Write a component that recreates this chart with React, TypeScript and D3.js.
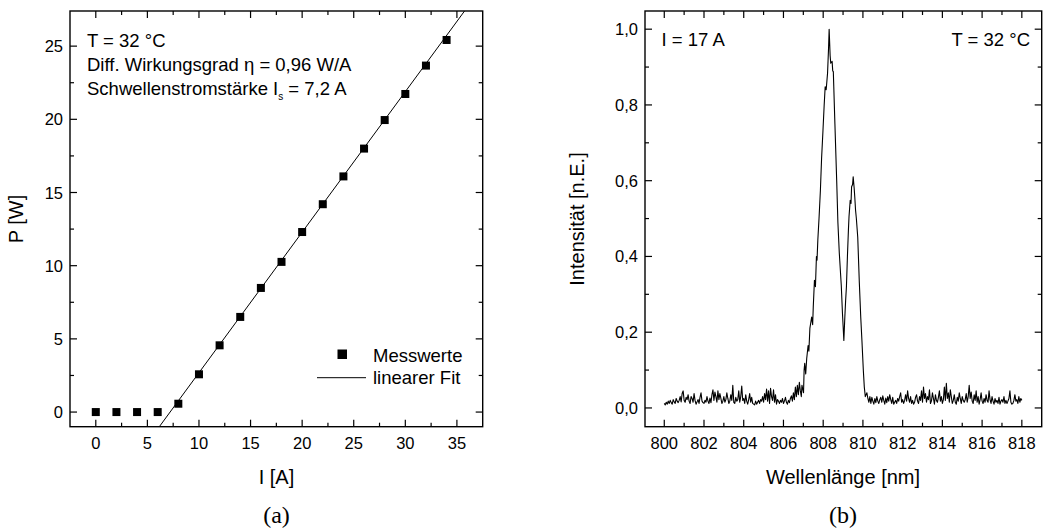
import React from "react";
import * as d3 from "d3";

// ---- Data: panel (a) ----
const currentA = [0, 2, 4, 6, 8, 10, 12, 14, 16, 18, 20, 22, 24, 26, 28, 30, 32, 34];
const powerW = [0, 0, 0, 0, 0.57, 2.58, 4.56, 6.5, 8.48, 10.26, 12.3, 14.2, 16.1, 18.0, 19.95, 21.73, 23.67, 25.42];
const fitSlope = 0.96;
const fitThreshold = 7.2;
const xTicksA = [0, 5, 10, 15, 20, 25, 30, 35];
const xMinorA = [2.5, 7.5, 12.5, 17.5, 22.5, 27.5, 32.5];
const yTicksA = [0, 5, 10, 15, 20, 25];
const yMinorA = [2.5, 7.5, 12.5, 17.5, 22.5];

// ---- Data: panel (b) ----
const noiseLeftStart = 800.0;
const noiseLeft = [
  12, 8, 15, 10, 18, 12, 20, 14, 10, 22, 16, 12, 25, 18, 14, 20, 30, 16, 38, 45,
  20, 15, 28, 22, 35, 18, 12, 30, 25, 15, 38, 20, 10, 16, 22, 12, 28, 40, 18, 14,
  12, 20, 15, 30, 18, 12, 26, 14, 35, 48, 20, 42, 30, 15, 45, 22, 38, 25, 12, 18,
  30, 15, 22, 40, 25, 12, 18, 35, 20, 60, 15, 12, 28, 18, 22, 45, 15, 30, 58, 20,
  25, 12, 35, 18, 10, 22, 38, 15, 28, 12, 10, 8, 18, 10, 15, 20, 12, 22, 18, 30,
  15, 38, 22, 50, 18, 45, 12, 52, 30, 20, 48, 15, 35, 10, 22, 18, 12, 20, 15, 25,
  12, 18, 28, 15, 10, 20, 14, 25, 32, 18, 40, 22, 55, 30, 60, 35, 68, 45,
];
const peakNm = [
  806.9, 806.93, 807.01, 807.04, 807.07, 807.12, 807.17, 807.24, 807.28, 807.33,
  807.42, 807.47, 807.5, 807.56, 807.61, 807.66, 807.69, 807.73, 807.79, 807.86,
  807.92, 807.99, 808.05, 808.1, 808.15, 808.22, 808.27, 808.3, 808.35, 808.38,
  808.45, 808.48, 808.51, 808.59, 808.68, 808.74, 808.81, 808.91, 808.97, 809.04,
  809.09, 809.13, 809.17, 809.22, 809.27, 809.3, 809.36, 809.4, 809.43, 809.48,
  809.51, 809.56, 809.59, 809.63, 809.67, 809.74, 809.82, 809.89, 809.95, 810.02,
  810.07, 810.12,
];
const peakVal = [
  0.03, 0.06, 0.04, 0.1, 0.118, 0.09, 0.13, 0.165, 0.15, 0.21,
  0.24, 0.22, 0.266, 0.337, 0.32, 0.4, 0.39, 0.443, 0.5, 0.575,
  0.66, 0.733, 0.8, 0.848, 0.84, 0.884, 0.95, 1.0, 0.93, 0.91,
  0.915, 0.89, 0.888, 0.75, 0.6, 0.49, 0.41, 0.324, 0.25, 0.178,
  0.24, 0.284, 0.32, 0.4, 0.47, 0.505, 0.548, 0.54, 0.584, 0.59,
  0.61, 0.58, 0.557, 0.522, 0.5, 0.45, 0.33, 0.24, 0.178, 0.1,
  0.055, 0.03,
];
const noiseRightStart = 810.2;
const noiseRight = [
  40, 25, 15, 30, 12, 28, 18, 10, 25, 14, 30, 18, 12, 22, 28, 15, 32, 20, 10, 26,
  14, 30, 18, 35, 22, 12, 28, 10, 15, 20, 12, 25, 18, 30, 40, 15, 22, 12, 20, 35,
  18, 45, 25, 15, 30, 12, 20, 10, 15, 28, 35, 18, 12, 30, 20, 45, 15, 55, 25, 38,
  15, 30, 22, 48, 12, 18, 40, 25, 10, 35, 20, 15, 28, 45, 18, 30, 12, 22, 55, 20,
  65, 25, 40, 15, 48, 30, 12, 20, 35, 15, 10, 28, 18, 40, 25, 12, 30, 20, 15, 22,
  38, 15, 30, 60, 25, 42, 18, 12, 35, 20, 45, 15, 30, 10, 22, 40, 18, 12, 25, 15,
  35, 20, 15, 45, 22, 12, 30, 18, 10, 25, 15, 20, 12, 28, 10, 18, 22, 15, 30, 12,
  20, 12, 18, 25, 45, 15, 10, 12, 20, 35, 18, 22, 12, 30, 15, 25, 20,
];
const noiseStep = 0.05;
const xTicksB = [800, 802, 804, 806, 808, 810, 812, 814, 816, 818];
const xMinorB = [801, 803, 805, 807, 809, 811, 813, 815, 817];
const yTicksB = [0, 0.2, 0.4, 0.6, 0.8, 1.0];
const yMinorB = [0.1, 0.3, 0.5, 0.7, 0.9];

const FONT = "'Liberation Sans', Arial, sans-serif";
const SERIF = "'Liberation Serif', 'DejaVu Serif', serif";
const TICK_FS = 16.5;
const TITLE_FS = 20;
const ANN_FS = 18.5;
const MAJ = 7;
const MIN = 4;

type FrameProps = {
  x: d3.ScaleLinear<number, number>;
  y: d3.ScaleLinear<number, number>;
  xt: number[];
  xm: number[];
  yt: number[];
  ym: number[];
  xf: (v: number) => string;
  yf: (v: number) => string;
};

function Frame({ x, y, xt, xm, yt, ym, xf, yf }: FrameProps) {
  const [x0, x1] = x.range();
  const [y0, y1] = y.range(); // y0 bottom, y1 top
  return (
    <g>
      <rect x={x0} y={y1} width={x1 - x0} height={y0 - y1} fill="none" stroke="#000" strokeWidth={1.4} />
      {xt.map((v) => (
        <g key={"xt" + v}>
          <line x1={x(v)} x2={x(v)} y1={y0} y2={y0 - MAJ} stroke="#000" strokeWidth={1.2} />
          <line x1={x(v)} x2={x(v)} y1={y1} y2={y1 + MAJ} stroke="#000" strokeWidth={1.2} />
          <text x={x(v)} y={y0 + 22.5} textAnchor="middle" fontFamily={FONT} fontSize={TICK_FS}>{xf(v)}</text>
        </g>
      ))}
      {xm.map((v) => (
        <g key={"xm" + v}>
          <line x1={x(v)} x2={x(v)} y1={y0} y2={y0 - MIN} stroke="#000" strokeWidth={1.2} />
          <line x1={x(v)} x2={x(v)} y1={y1} y2={y1 + MIN} stroke="#000" strokeWidth={1.2} />
        </g>
      ))}
      {yt.map((v) => (
        <g key={"yt" + v}>
          <line x1={x0} x2={x0 + MAJ} y1={y(v)} y2={y(v)} stroke="#000" strokeWidth={1.2} />
          <line x1={x1} x2={x1 - MAJ} y1={y(v)} y2={y(v)} stroke="#000" strokeWidth={1.2} />
          <text x={x0 - 7} y={y(v) + 6} textAnchor="end" fontFamily={FONT} fontSize={TICK_FS}>{yf(v)}</text>
        </g>
      ))}
      {ym.map((v) => (
        <g key={"ym" + v}>
          <line x1={x0} x2={x0 + MIN} y1={y(v)} y2={y(v)} stroke="#000" strokeWidth={1.2} />
          <line x1={x1} x2={x1 - MIN} y1={y(v)} y2={y(v)} stroke="#000" strokeWidth={1.2} />
        </g>
      ))}
    </g>
  );
}

export default function App() {
  // Panel (a)
  const xA = d3.scaleLinear().domain([-2.5, 37.5]).range([70, 482.7]);
  const yA = d3.scaleLinear().domain([-1, 27.4]).range([426.7, 11]);
  const fit = (i: number) => fitSlope * (i - fitThreshold);
  const fitI0 = fitThreshold + (-1) / fitSlope;
  const fitI1 = fitThreshold + 27.4 / fitSlope;
  const fitLine = d3.line<number>().x((i) => xA(i)).y((i) => yA(fit(i)))([fitI0, fitI1]) || "";

  // Panel (b)
  const xB = d3.scaleLinear().domain([799.03, 819]).range([645, 1041.7]);
  const yB = d3.scaleLinear().domain([-0.0495, 1.048]).range([426.7, 11]);
  const spec: [number, number][] = [
    ...noiseLeft.map((v, i) => [noiseLeftStart + i * noiseStep, v / 1000] as [number, number]),
    ...peakNm.map((n, i) => [n, peakVal[i]] as [number, number]),
    ...noiseRight.map((v, i) => [noiseRightStart + i * noiseStep, v / 1000] as [number, number]),
  ];
  const specPath = d3.line<[number, number]>().x((d) => xB(d[0])).y((d) => yB(d[1]))(spec) || "";

  const commaFmt = (v: number) => v.toFixed(1).replace(".", ",");

  return (
    <svg width={1064} height={532} style={{ position: "absolute", left: 0, top: 0, background: "#fff" }}>
      <rect width={1064} height={532} fill="#fff" />
      {/* Panel (a) */}
      <defs>
        <clipPath id="clipA">
          <rect x={70} y={11} width={412.7} height={415.7} />
        </clipPath>
      </defs>
      <path d={fitLine} stroke="#000" strokeWidth={1} fill="none" clipPath="url(#clipA)" />
      {currentA.map((c, i) => (
        <rect key={"p" + i} x={xA(c) - 4} y={yA(powerW[i]) - 4} width={8} height={8} fill="#000" />
      ))}
      <Frame x={xA} y={yA} xt={xTicksA} xm={xMinorA} yt={yTicksA} ym={yMinorA} xf={(v) => String(v)} yf={(v) => String(v)} />
      <g fontFamily={FONT} fontSize={ANN_FS}>
        <text x={87} y={46.5}>T = 32 °C</text>
        <text x={87} y={71}>Diff. Wirkungsgrad η = 0,96 W/A</text>
        <text x={87} y={95}>
          Schwellenstromstärke I<tspan fontSize={10} dy={5}>s</tspan>
          <tspan dy={-5}> = 7,2 A</tspan>
        </text>
      </g>
      {/* legend */}
      <rect x={337.5} y={349.5} width={9.5} height={9.5} fill="#000" />
      <text x={373} y={361.5} fontFamily={FONT} fontSize={ANN_FS}>Messwerte</text>
      <line x1={317} x2={366} y1={377.7} y2={377.7} stroke="#000" strokeWidth={1} />
      <text x={373} y={383.5} fontFamily={FONT} fontSize={ANN_FS}>linearer Fit</text>
      <text x={276.5} y={484} textAnchor="middle" fontFamily={FONT} fontSize={TITLE_FS}>I [A]</text>
      <text transform={`translate(23,219) rotate(-90)`} textAnchor="middle" fontFamily={FONT} fontSize={TITLE_FS}>P [W]</text>
      <text x={276.5} y={523} textAnchor="middle" fontFamily={SERIF} fontSize={24}>(a)</text>

      {/* Panel (b) */}
      <path d={specPath} stroke="#000" strokeWidth={1.1} fill="none" strokeLinejoin="round" />
      <Frame x={xB} y={yB} xt={xTicksB} xm={xMinorB} yt={yTicksB} ym={yMinorB} xf={(v) => String(v)} yf={commaFmt} />
      <text x={661.5} y={45.5} fontFamily={FONT} fontSize={ANN_FS}>I = 17 A</text>
      <text x={1030} y={45.5} textAnchor="end" fontFamily={FONT} fontSize={ANN_FS}>T = 32 °C</text>
      <text x={843} y={484} textAnchor="middle" fontFamily={FONT} fontSize={TITLE_FS}>Wellenlänge [nm]</text>
      <text transform={`translate(584,219) rotate(-90)`} textAnchor="middle" fontFamily={FONT} fontSize={TITLE_FS}>Intensität [n.E.]</text>
      <text x={843} y={523} textAnchor="middle" fontFamily={SERIF} fontSize={24}>(b)</text>
    </svg>
  );
}
